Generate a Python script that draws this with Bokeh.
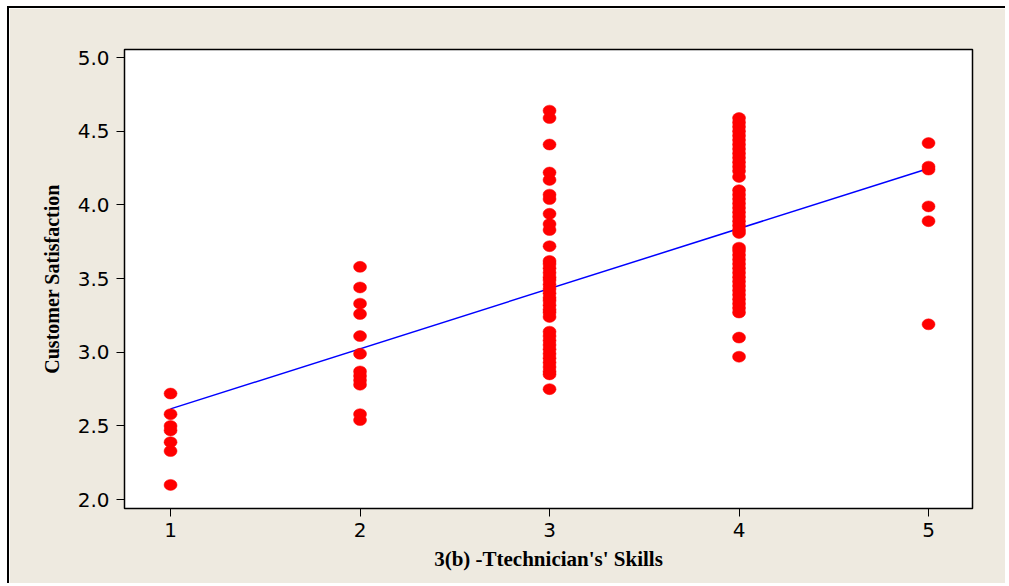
from bokeh.plotting import figure
from bokeh.models import FixedTicker, ColumnDataSource, CustomJSTickFormatter
from bokeh.embed import file_html
from bokeh.resources import INLINE

# Data
skill_1 = [2.72, 2.58, 2.50, 2.47, 2.39, 2.33, 2.10]
skill_2 = [3.58, 3.44, 3.33, 3.26, 3.11, 2.99, 2.87, 2.84, 2.81, 2.78, 2.58, 2.54]
skill_3 = [4.64, 4.59, 4.41, 4.22, 4.17, 4.07, 4.04, 3.94, 3.87, 3.83, 3.72,
           3.62, 3.60, 3.57, 3.54, 3.51, 3.49, 3.46, 3.43, 3.40, 3.37, 3.35,
           3.32, 3.29, 3.27, 3.24,
           3.14, 3.11, 3.08, 3.05, 3.02, 2.99, 2.96, 2.93, 2.90, 2.87, 2.85,
           2.75]
skill_4 = [4.59, 4.56, 4.53, 4.50, 4.47, 4.44, 4.41, 4.38, 4.35, 4.32, 4.29,
           4.26, 4.23, 4.19,
           4.10, 4.07, 4.04, 4.01, 3.98, 3.95, 3.92, 3.89, 3.86, 3.83, 3.81,
           3.71, 3.69, 3.66, 3.63, 3.60, 3.57, 3.54, 3.51, 3.48, 3.45, 3.42,
           3.39, 3.36, 3.33, 3.30, 3.27,
           3.10, 2.97]
skill_5 = [4.42, 4.26, 4.24, 3.99, 3.89, 3.19]

groups = [1, 2, 3, 4, 5]
group_values = [skill_1, skill_2, skill_3, skill_4, skill_5]

# Fitted line
fit_intercept = 2.208
fit_slope = 0.408
fit_x = [1, 5]

x_ticks = [1, 2, 3, 4, 5]
y_ticks = [2.0, 2.5, 3.0, 3.5, 4.0, 4.5, 5.0]

xs, ys = [], []
for g, vals in zip(groups, group_values):
    for v in vals:
        xs.append(g)
        ys.append(v)

src = ColumnDataSource(dict(x=xs, y=ys))

bg = "#EEEAE0"
p = figure(width=998, height=577, output_backend="svg", toolbar_location=None,
           x_range=(0.757, 5.232), y_range=(1.94, 5.055),
           min_border_left=115, min_border_right=35, min_border_top=41,
           min_border_bottom=77)
p.styles = {"margin-left": "7px", "margin-top": "6px",
            "border-left": "2px solid black", "border-top": "2px solid black"}
p.background_fill_color = "white"
p.border_fill_color = bg
p.outline_line_color = "black"
p.outline_line_width = 1.5
p.grid.visible = False

fit_y = [fit_intercept + fit_slope * x for x in fit_x]
p.line(fit_x, fit_y, line_color="#0000FF", line_width=1.5)
p.ellipse(x="x", y="y", width=13, height=11, width_units="screen",
          height_units="screen", source=src, fill_color="#FF0000",
          line_color="#FF0000", line_width=0.5)

for ax in (p.xaxis[0], p.yaxis[0]):
    ax.major_tick_out = 8
    ax.major_tick_in = 0
    ax.minor_tick_line_color = None
    ax.major_label_text_font = "DejaVu Sans"
    ax.major_label_text_font_size = "20px"
    ax.major_label_text_color = "black"
    ax.axis_line_color = "black"
    ax.major_tick_line_color = "black"
    ax.axis_label_text_font = "Liberation Serif"
    ax.axis_label_text_font_style = "bold"
    ax.axis_label_text_color = "black"

p.yaxis.axis_label_text_font_size = "20px"
p.xaxis.axis_label_text_font_size = "21px"
p.xaxis.ticker = FixedTicker(ticks=x_ticks)
p.yaxis.ticker = FixedTicker(ticks=y_ticks)
p.yaxis.formatter = CustomJSTickFormatter(code="return tick.toFixed(1);")
p.xaxis.major_label_standoff = 6
p.yaxis.major_label_standoff = 7
p.xaxis.axis_label = "3(b) -Ttechnician's' Skills"
p.yaxis.axis_label = "Customer Satisfaction"
p.xaxis.axis_label_standoff = 7
p.yaxis.axis_label_standoff = 12

open("out.html", "w").write(file_html(p, INLINE))
